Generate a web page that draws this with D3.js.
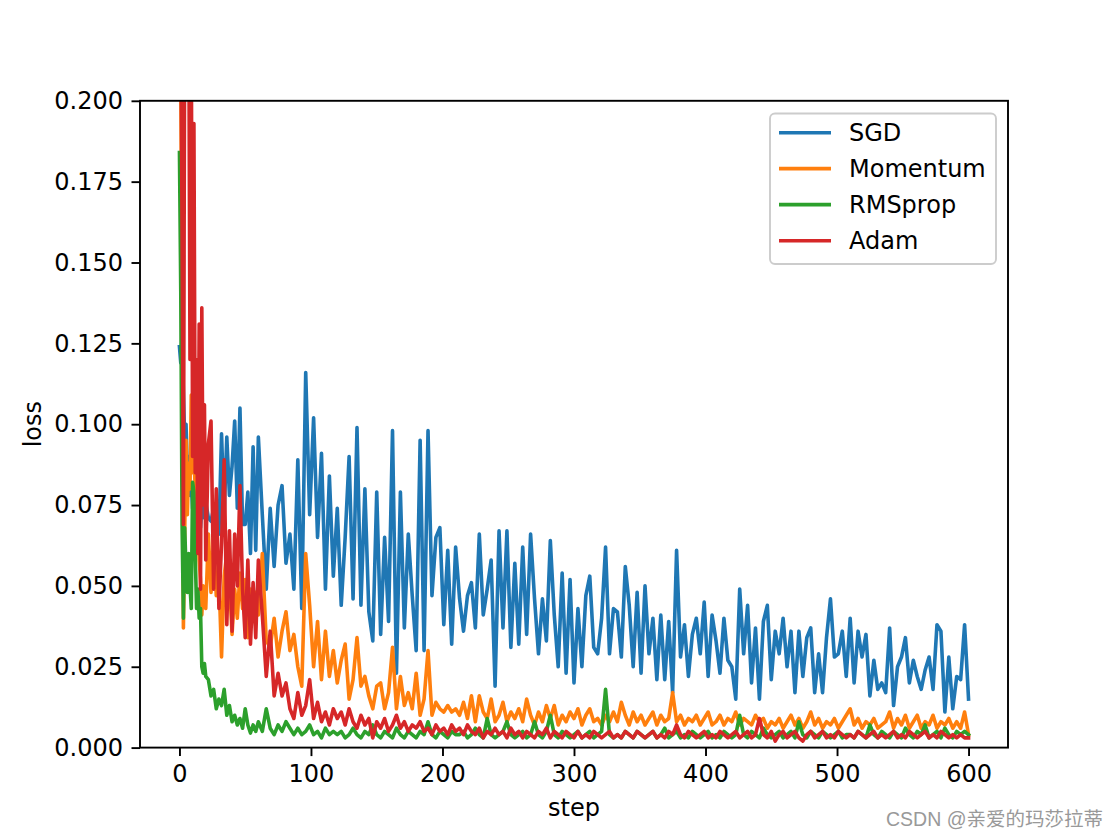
<!DOCTYPE html>
<html>
<head>
<meta charset="utf-8">
<script src="https://cdn.jsdelivr.net/npm/d3@7"></script>
<style>
  html, body { margin: 0; padding: 0; background: #fff; }
  svg { display: block; }
</style>
</head>
<body>
<svg id="chart" width="1120" height="840"></svg>
<script>
// ---------- data ----------
const seriesNames = ["SGD", "Momentum", "RMSprop", "Adam"];
const seriesColors = ["#1f77b4", "#ff7f0e", "#2ca02c", "#d62728"];
const xTicks = [0, 100, 200, 300, 400, 500, 600];
const yTicks = [0, 0.025, 0.05, 0.075, 0.1, 0.125, 0.15, 0.175, 0.2];

const steps = [
  0,1,2,3,4,5,6,7,8,9,10,11,12,13,14,15,16,17,18,19,20,
  22,24,26,28,30,32,34,36,38,40,42,44,46,48,50,52,54,56,58,60,
  63,66,69,72,75,78,81,84,87,90,
  93,96,99,102,105,108,111,114,117,120,
  123,126,129,132,135,138,141,144,147,150,
  153,156,159,162,165,168,171,174,177,180,
  183,186,189,192,195,198,201,204,207,210,
  213,216,219,222,225,228,231,234,237,240,
  243,246,249,252,255,258,261,264,267,270,
  273,276,279,282,285,288,291,294,297,300,
  303,306,309,312,315,318,321,324,327,330,
  333,336,339,342,345,348,351,354,357,360,
  363,366,369,372,375,378,381,384,387,390,
  393,396,399,402,405,408,411,414,417,420,
  423,426,429,432,435,438,441,444,447,450,
  453,456,459,462,465,468,471,474,477,480,
  483,486,489,492,495,498,501,504,507,510,
  513,516,519,522,525,528,531,534,537,540,
  543,546,549,552,555,558,561,564,567,570,
  573,576,579,582,585,588,591,594,597,600
];

const sgd = [
  0.124,0.119,0.127,0.110,0.095,0.100,0.085,0.090,0.078,0.082,0.074,0.079,0.070,0.076,0.066,0.072,0.068,0.074,0.078,0.071,0.076,
  0.071,0.070,0.074,0.074,0.066,0.097,0.072,0.096,0.078,0.087,0.101,0.074,0.105,0.069,0.069,0.079,0.060,0.093,0.061,0.096,
  0.072,0.049,0.074,0.056,0.075,0.081,0.057,0.066,0.049,0.089,
  0.043,0.116,0.072,0.102,0.065,0.091,0.049,0.084,0.053,0.074,
  0.044,0.065,0.090,0.046,0.099,0.044,0.080,0.042,0.033,0.079,
  0.035,0.065,0.039,0.098,0.023,0.079,0.037,0.066,0.047,0.030,
  0.095,0.030,0.098,0.047,0.065,0.068,0.038,0.061,0.032,0.062,
  0.046,0.036,0.047,0.051,0.037,0.066,0.041,0.049,0.058,0.019,
  0.067,0.037,0.067,0.031,0.057,0.032,0.062,0.035,0.066,0.046,
  0.029,0.046,0.033,0.064,0.041,0.025,0.054,0.023,0.052,0.020,
  0.043,0.025,0.047,0.053,0.031,0.029,0.040,0.062,0.029,0.043,
  0.042,0.028,0.056,0.044,0.025,0.048,0.023,0.050,0.029,0.040,
  0.021,0.041,0.021,0.039,0.017,0.061,0.028,0.038,0.022,0.035,
  0.040,0.029,0.045,0.022,0.041,0.033,0.023,0.040,0.027,0.025,
  0.015,0.049,0.029,0.044,0.020,0.037,0.015,0.039,0.044,0.021,
  0.036,0.029,0.040,0.025,0.036,0.017,0.036,0.022,0.034,0.037,
  0.017,0.029,0.017,0.034,0.046,0.028,0.029,0.036,0.022,0.040,
  0.020,0.036,0.028,0.035,0.016,0.027,0.018,0.020,0.017,0.037,
  0.013,0.025,0.028,0.034,0.020,0.027,0.022,0.018,0.024,0.028,
  0.018,0.038,0.036,0.011,0.028,0.012,0.022,0.021,0.038,0.015
];

const momentum = [
  0.26,0.21,0.13,0.037,0.067,0.095,0.072,0.088,0.080,0.109,0.085,0.092,0.079,0.062,0.070,0.058,0.052,0.041,0.050,0.046,0.043,
  0.066,0.048,0.065,0.047,0.053,0.028,0.053,0.060,0.052,0.035,0.049,0.040,0.054,0.043,0.052,0.034,0.049,0.039,0.048,0.041,
  0.060,0.033,0.031,0.040,0.028,0.036,0.042,0.030,0.035,0.025,
  0.019,0.060,0.044,0.025,0.039,0.021,0.036,0.022,0.030,0.020,
  0.027,0.032,0.015,0.021,0.034,0.019,0.022,0.016,0.012,0.019,
  0.020,0.012,0.017,0.031,0.012,0.022,0.013,0.017,0.012,0.023,
  0.010,0.015,0.030,0.010,0.014,0.012,0.011,0.013,0.011,0.012,
  0.010,0.014,0.009,0.016,0.008,0.016,0.011,0.009,0.015,0.008,
  0.010,0.014,0.008,0.011,0.009,0.012,0.008,0.015,0.010,0.007,
  0.011,0.008,0.013,0.009,0.013,0.007,0.010,0.008,0.011,0.009,
  0.012,0.007,0.010,0.012,0.008,0.009,0.007,0.010,0.008,0.011,
  0.008,0.014,0.010,0.007,0.011,0.008,0.010,0.007,0.009,0.011,
  0.007,0.010,0.008,0.009,0.017,0.008,0.010,0.007,0.009,0.008,
  0.010,0.007,0.009,0.011,0.007,0.008,0.010,0.007,0.009,0.008,
  0.011,0.007,0.009,0.008,0.007,0.010,0.008,0.009,0.006,0.008,
  0.007,0.009,0.006,0.008,0.010,0.007,0.009,0.006,0.008,0.011,
  0.007,0.009,0.006,0.008,0.007,0.009,0.006,0.008,0.010,0.012,
  0.007,0.009,0.006,0.008,0.007,0.009,0.006,0.007,0.008,0.011,
  0.006,0.009,0.007,0.010,0.006,0.008,0.010,0.006,0.008,0.007,
  0.010,0.006,0.008,0.007,0.009,0.006,0.008,0.006,0.011,0.004
];

const rmsprop = [
  0.184,0.141,0.069,0.040,0.068,0.055,0.048,0.060,0.050,0.043,0.082,0.079,0.060,0.043,0.049,0.040,0.043,0.025,0.023,0.026,0.022,
  0.021,0.016,0.018,0.012,0.015,0.013,0.018,0.010,0.013,0.008,0.010,0.007,0.009,0.006,0.012,0.007,0.0045,0.007,0.005,0.008,
  0.005,0.012,0.006,0.004,0.007,0.005,0.008,0.006,0.004,0.006,
  0.004,0.005,0.007,0.004,0.005,0.003,0.006,0.004,0.005,0.004,
  0.005,0.003,0.004,0.006,0.004,0.003,0.005,0.004,0.007,0.004,
  0.003,0.005,0.004,0.003,0.006,0.004,0.003,0.005,0.004,0.003,
  0.005,0.004,0.008,0.004,0.003,0.005,0.004,0.003,0.005,0.004,
  0.004,0.005,0.003,0.004,0.006,0.004,0.003,0.009,0.004,0.003,
  0.004,0.005,0.008,0.004,0.003,0.004,0.005,0.003,0.004,0.008,
  0.004,0.003,0.005,0.010,0.004,0.003,0.005,0.004,0.003,0.004,
  0.005,0.003,0.004,0.005,0.003,0.004,0.005,0.018,0.004,0.003,
  0.004,0.003,0.005,0.004,0.003,0.005,0.004,0.003,0.004,0.005,
  0.003,0.004,0.006,0.003,0.004,0.005,0.003,0.004,0.003,0.005,
  0.004,0.003,0.004,0.005,0.003,0.004,0.003,0.005,0.004,0.003,
  0.004,0.010,0.004,0.003,0.005,0.004,0.003,0.006,0.004,0.003,
  0.004,0.005,0.003,0.004,0.005,0.003,0.008,0.004,0.003,0.005,
  0.004,0.003,0.005,0.004,0.003,0.004,0.005,0.003,0.004,0.004,
  0.003,0.005,0.004,0.003,0.007,0.004,0.003,0.005,0.004,0.003,
  0.005,0.004,0.003,0.006,0.004,0.003,0.005,0.004,0.007,0.003,
  0.004,0.005,0.003,0.006,0.004,0.003,0.005,0.004,0.005,0.004
];

const adam = [
  0.26,0.23,0.16,0.069,0.23,0.25,0.22,0.24,0.12,0.22,0.09,0.193,0.085,0.12,0.06,0.131,0.049,0.136,0.075,0.106,0.058,
  0.094,0.101,0.049,0.080,0.043,0.063,0.089,0.038,0.067,0.036,0.066,0.050,0.081,0.049,0.034,0.058,0.032,0.051,0.034,0.058,
  0.041,0.022,0.036,0.016,0.023,0.016,0.020,0.012,0.009,0.017,
  0.010,0.013,0.021,0.009,0.014,0.008,0.011,0.007,0.012,0.009,
  0.011,0.007,0.012,0.008,0.006,0.010,0.007,0.009,0.003,0.008,
  0.006,0.009,0.005,0.007,0.010,0.006,0.008,0.005,0.007,0.006,
  0.008,0.005,0.006,0.004,0.007,0.005,0.006,0.004,0.007,0.005,
  0.006,0.004,0.007,0.005,0.004,0.006,0.003,0.005,0.004,0.006,
  0.004,0.005,0.003,0.006,0.004,0.005,0.003,0.005,0.004,0.003,
  0.005,0.004,0.006,0.003,0.005,0.004,0.003,0.005,0.004,0.003,
  0.005,0.003,0.004,0.003,0.005,0.004,0.003,0.004,0.005,0.003,
  0.004,0.003,0.005,0.004,0.003,0.005,0.004,0.003,0.004,0.005,
  0.003,0.004,0.003,0.005,0.004,0.007,0.004,0.003,0.005,0.004,
  0.003,0.004,0.005,0.003,0.004,0.003,0.005,0.004,0.003,0.004,
  0.005,0.003,0.004,0.005,0.003,0.004,0.009,0.004,0.003,0.005,
  0.002,0.004,0.005,0.003,0.004,0.005,0.003,0.002,0.004,0.005,
  0.003,0.004,0.005,0.003,0.004,0.003,0.005,0.004,0.003,0.004,
  0.003,0.005,0.004,0.003,0.004,0.005,0.003,0.004,0.003,0.004,
  0.005,0.003,0.004,0.003,0.005,0.004,0.003,0.004,0.005,0.003,
  0.004,0.003,0.005,0.004,0.003,0.004,0.003,0.004,0.003,0.003
];

const seriesValues = [sgd, momentum, rmsprop, adam];

// ---------- layout ----------
const W = 1120, H = 840;
const plotL = 140, plotR = 1008, plotT = 100.8, plotB = 747.6;
const FONT = "'DejaVu Sans', sans-serif";

const svg = d3.select("#chart");
svg.append("rect").attr("width", W).attr("height", H).attr("fill", "#fff");

const x = d3.scaleLinear().domain([-30, 630]).range([plotL, plotR]);
const y = d3.scaleLinear().domain([0, 0.2]).range([plotB, plotT]);

svg.append("defs").append("clipPath").attr("id", "plotclip")
  .append("rect").attr("x", plotL).attr("y", plotT)
  .attr("width", plotR - plotL).attr("height", plotB - plotT);

// lines
const line = d3.line()
  .x(d => x(d[0]))
  .y(d => y(d[1]));

const plot = svg.append("g").attr("clip-path", "url(#plotclip)");
seriesValues.forEach((vals, i) => {
  const n = Math.min(vals.length, steps.length);
  const pts = d3.range(n).map(k => [steps[k], vals[k]]);
  plot.append("path")
    .datum(pts)
    .attr("d", line)
    .attr("fill", "none")
    .attr("stroke", seriesColors[i])
    .attr("stroke-width", 3.6)
    .attr("stroke-linejoin", "round")
    .attr("stroke-linecap", "square");
});

// axes
const xAxis = d3.axisBottom(x).tickValues(xTicks).tickSize(8.5).tickPadding(8.5)
  .tickFormat(d3.format("d"));
const yAxis = d3.axisLeft(y).tickValues(yTicks).tickSize(8.5).tickPadding(8.5)
  .tickFormat(d3.format(".3f"));

const gx = svg.append("g").attr("transform", `translate(0,${plotB})`).call(xAxis);
const gy = svg.append("g").attr("transform", `translate(${plotL},0)`).call(yAxis);
[gx, gy].forEach(g => {
  g.select(".domain").remove();
  g.selectAll(".tick line").attr("stroke", "#000").attr("stroke-width", 1.9);
  g.selectAll(".tick text").attr("fill", "#000")
    .style("font-family", FONT).style("font-size", "24px");
});

// frame
svg.append("rect")
  .attr("x", plotL).attr("y", plotT)
  .attr("width", plotR - plotL).attr("height", plotB - plotT)
  .attr("fill", "none").attr("stroke", "#000").attr("stroke-width", 1.9);

// axis labels
svg.append("text")
  .attr("x", (plotL + plotR) / 2).attr("y", 816)
  .attr("text-anchor", "middle")
  .style("font-family", FONT).style("font-size", "24px")
  .text("step");

svg.append("text")
  .attr("transform", `translate(41,${(plotT + plotB) / 2}) rotate(-90)`)
  .attr("text-anchor", "middle")
  .style("font-family", FONT).style("font-size", "24px")
  .text("loss");

// legend
const lg = svg.append("g");
lg.append("rect")
  .attr("x", 770).attr("y", 113.5)
  .attr("width", 226).attr("height", 150.5)
  .attr("rx", 5).attr("ry", 5)
  .attr("fill", "#fff").attr("fill-opacity", 0.8)
  .attr("stroke", "#cccccc").attr("stroke-width", 1.9);
const rowY = [132.7, 168.6, 204.6, 240.8];
seriesNames.forEach((name, i) => {
  lg.append("line")
    .attr("x1", 779).attr("x2", 831)
    .attr("y1", rowY[i]).attr("y2", rowY[i])
    .attr("stroke", seriesColors[i]).attr("stroke-width", 3.6);
  lg.append("text")
    .attr("x", 849).attr("y", rowY[i]).attr("dy", "0.36em")
    .style("font-family", FONT).style("font-size", "24px")
    .attr("fill", "#000")
    .text(name);
});

// watermark
svg.append("text")
  .attr("x", 1103).attr("y", 826)
  .attr("text-anchor", "end")
  .style("font-family", "'Liberation Sans', 'Noto Sans CJK SC', sans-serif")
  .style("font-size", "19.5px")
  .attr("fill", "#999999")
  .text("CSDN @亲爱的玛莎拉蒂");
</script>
</body>
</html>
